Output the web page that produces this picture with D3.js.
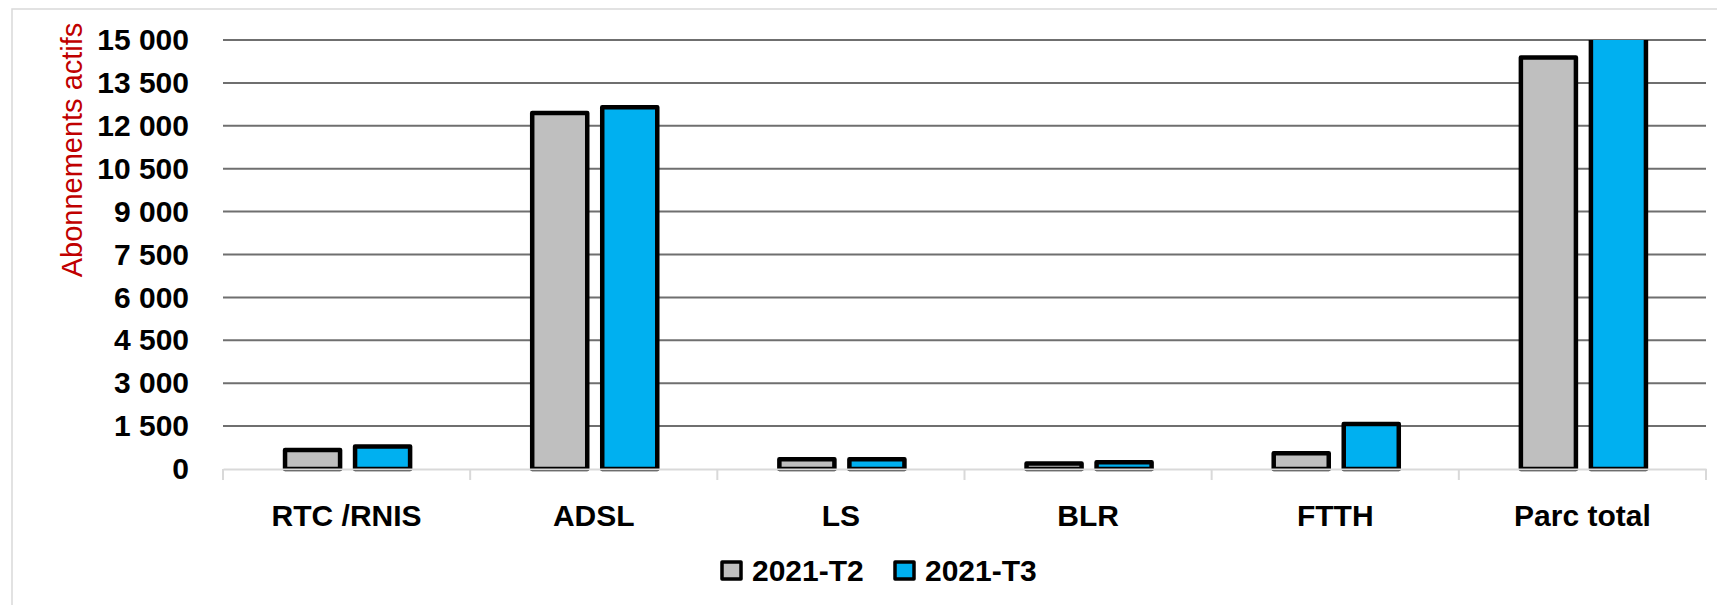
<!doctype html>
<html>
<head>
<meta charset="utf-8">
<title>Abonnements actifs</title>
<script src="https://cdnjs.cloudflare.com/ajax/libs/d3/7.8.5/d3.min.js"></script>
<style>
  body { margin: 0; background: #fff; }
  text { font-family: "Liberation Sans", Arial, sans-serif; }
</style>
</head>
<body>
<svg width="1717" height="605"></svg>
<script>
// data
var categories = ["RTC /RNIS", "ADSL", "LS", "BLR", "FTTH", "Parc total"];
var series = ["2021-T2", "2021-T3"];
var valuesT2 = [660, 12450, 340, 190, 550, 14390];
var valuesT3 = [790, 12650, 340, 240, 1570, 15400];
var yTicks = [0, 1500, 3000, 4500, 6000, 7500, 9000, 10500, 12000, 13500, 15000];
var colors = ["#bfbfbf", "#00b0f0"];

var svg = d3.select("svg");
// note: "top" is a reserved window property, so use plot* names
var plotLeft = 223, plotRight = 1706, plotTop = 40, plotBottom = 469;

// chart frame
svg.append("rect")
  .attr("x", 12).attr("y", 9)
  .attr("width", 1740).attr("height", 640)
  .attr("fill", "none").attr("stroke", "#d9d9d9").attr("stroke-width", 1.5);

var x0 = d3.scaleBand().domain(categories).range([plotLeft, plotRight]).padding(0);
var bw = x0.bandwidth();
var x1 = d3.scaleBand().domain(series).range([bw * 0.251, bw * 0.757]).paddingInner(0.214);
var y = d3.scaleLinear().domain([0, 15000]).range([plotBottom, plotTop]);

var fmt = function(d) { return d3.format(",")(d).replace(/,/g, " "); };

// gridlines
svg.append("g")
  .selectAll("line")
  .data(yTicks.filter(function(d) { return d > 0; }))
  .join("line")
  .attr("x1", plotLeft).attr("x2", plotRight)
  .attr("y1", function(d) { return y(d); }).attr("y2", function(d) { return y(d); })
  .attr("stroke", "#6f6f6f").attr("stroke-width", 2);

// y axis labels
var yAxis = d3.axisLeft(y).tickValues(yTicks).tickFormat(fmt).tickSize(0).tickPadding(34);
var gy = svg.append("g").attr("transform", "translate(" + plotLeft + ",0)").call(yAxis);
gy.select(".domain").remove();
gy.selectAll("text")
  .attr("font-family", "Liberation Sans, Arial, sans-serif")
  .attr("font-size", 30).attr("font-weight", "bold").attr("fill", "#000");

svg.append("text")
  .attr("transform", "translate(82,150) rotate(-90)")
  .attr("text-anchor", "middle")
  .attr("font-size", 29)
  .attr("fill", "#c00000")
  .text("Abonnements actifs");

// clip so the bar above 15 000 is cut
svg.append("defs").append("clipPath").attr("id", "plot")
  .append("rect").attr("x", plotLeft - 10).attr("y", plotTop)
  .attr("width", plotRight - plotLeft + 20).attr("height", plotBottom - plotTop + 10);

var rows = categories.map(function(c, i) {
  return { cat: c, vals: [valuesT2[i], valuesT3[i]] };
});

var bars = svg.append("g").attr("clip-path", "url(#plot)");
bars.selectAll("g")
  .data(rows)
  .join("g")
  .attr("transform", function(d) { return "translate(" + x0(d.cat) + ",0)"; })
  .selectAll("rect")
  .data(function(d) { return d.vals.map(function(v, j) { return { s: series[j], v: v, j: j }; }); })
  .join("rect")
  .attr("x", function(d) { return x1(d.s); })
  .attr("width", x1.bandwidth())
  .attr("y", function(d) { return y(d.v); })
  .attr("height", function(d) { return plotBottom - y(d.v); })
  .attr("fill", function(d) { return colors[d.j]; })
  .attr("stroke", "#000").attr("stroke-width", 4.5).attr("stroke-linejoin", "round");

// category axis
var xAxis = d3.axisBottom(x0).tickSize(0).tickPadding(36);
var gx = svg.append("g").attr("transform", "translate(0," + plotBottom + ")").call(xAxis);
gx.select(".domain").attr("stroke", "#d9d9d9").attr("stroke-width", 2);
gx.selectAll("text")
  .attr("font-family", "Liberation Sans, Arial, sans-serif")
  .attr("font-size", 30).attr("font-weight", "bold").attr("fill", "#000");

// boundary ticks between categories
svg.append("g")
  .selectAll("line")
  .data(categories.map(function(c) { return x0(c); }).concat([plotRight]))
  .join("line")
  .attr("x1", function(d) { return d; }).attr("x2", function(d) { return d; })
  .attr("y1", plotBottom).attr("y2", plotBottom + 11)
  .attr("stroke", "#d9d9d9").attr("stroke-width", 2);

// legend
var legendX = [722, 895];
var legend = svg.append("g").selectAll("g")
  .data(series)
  .join("g")
  .attr("transform", function(d, i) { return "translate(" + legendX[i] + ",562)"; });
legend.append("rect")
  .attr("width", 19).attr("height", 17)
  .attr("fill", function(d, i) { return colors[i]; })
  .attr("stroke", "#000").attr("stroke-width", 3.5).attr("stroke-linejoin", "round");
legend.append("text")
  .attr("x", 30).attr("y", 19)
  .attr("font-size", 30).attr("font-weight", "bold")
  .text(function(d) { return d; });
</script>
</body>
</html>
